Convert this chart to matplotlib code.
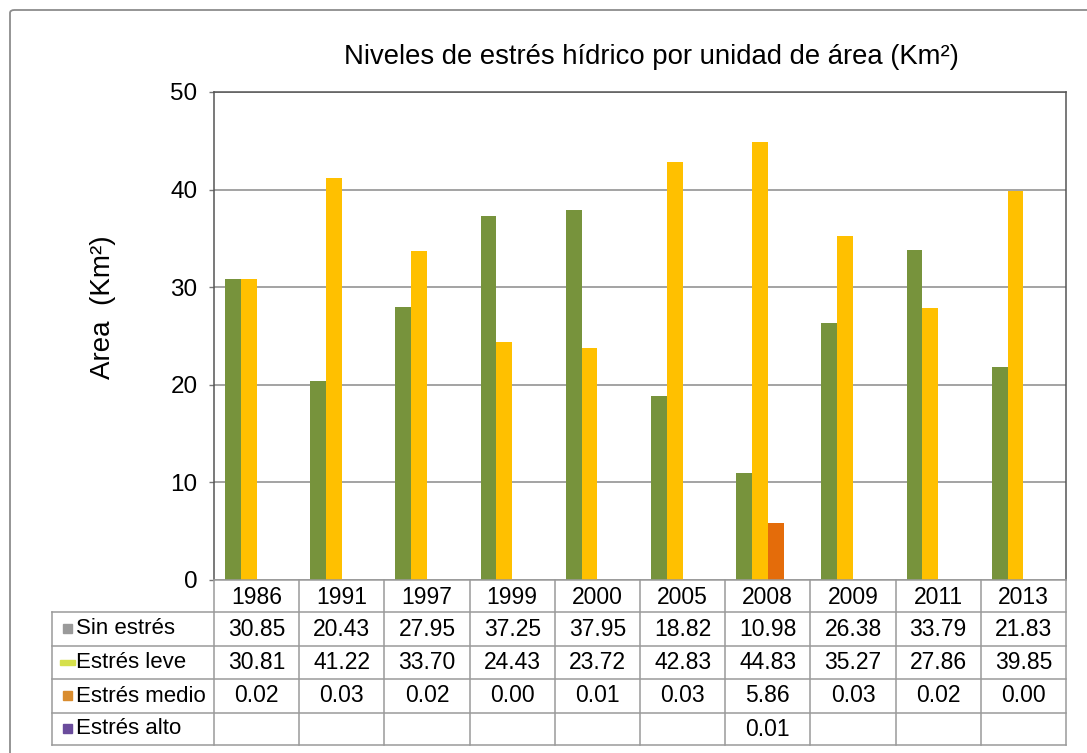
import numpy as np
import matplotlib
matplotlib.use("Agg")
import matplotlib.pyplot as plt
from matplotlib.transforms import blended_transform_factory
from matplotlib.patches import FancyBboxPatch, Rectangle
from matplotlib.lines import Line2D

plt.rcParams['font.family'] = ['Liberation Sans', 'DejaVu Sans']

years = ["1986", "1991", "1997", "1999", "2000", "2005", "2008", "2009", "2011", "2013"]
series_names = ["Sin estrés", "Estrés leve", "Estrés medio", "Estrés alto"]
sin_estres = [30.85, 20.43, 27.95, 37.25, 37.95, 18.82, 10.98, 26.38, 33.79, 21.83]
estres_leve = [30.81, 41.22, 33.70, 24.43, 23.72, 42.83, 44.83, 35.27, 27.86, 39.85]
estres_medio = [0.02, 0.03, 0.02, 0.00, 0.01, 0.03, 5.86, 0.03, 0.02, 0.00]
estres_alto = [None, None, None, None, None, None, 0.01, None, None, None]

bar_colors = ["#77933C", "#FFC000", "#E46C0A", "#7030A0"]
key_colors = ["#9a9a9a", "#d6e04c", "#d98c2e", "#6a4c9c"]

W, H = 1087, 753
fig = plt.figure(figsize=(W / 100, H / 100), dpi=100)

def fx(px):
    return px / W

def fy(py):
    return 1 - py / H

# outer chart frame (runs past the right and bottom edges)
fig.patches.append(FancyBboxPatch((fx(10), fy(790)), fx(1120), 780 / H,
                                  boxstyle="round,pad=0,rounding_size=0.004",
                                  transform=fig.transFigure, fill=False,
                                  edgecolor="#8c8c8c", linewidth=1.3))

left, right, top, bottom = 214, 1066, 92, 580
ax = fig.add_axes([fx(left), fy(bottom), fx(right - left), (bottom - top) / H])

all_series = [sin_estres, estres_leve, estres_medio, estres_alto]
x = np.arange(len(years))
bw = 0.185
for k, (vals, col) in enumerate(zip(all_series, bar_colors)):
    v = np.array([np.nan if a is None else a for a in vals], dtype=float)
    ax.bar(x + (k - 1.5) * bw, v, width=bw, color=col, zorder=3, linewidth=0)

ax.set_xlim(-0.5, len(years) - 0.5)
ax.set_ylim(0, 50)
ax.set_yticks([0, 10, 20, 30, 40, 50])
ax.tick_params(axis='y', labelsize=17.5, length=3.8, width=1, color="#777777", pad=8)
ax.set_xticks([])
ax.yaxis.grid(True, color="#8a8a8a", linewidth=1.1, zorder=0)
for s in ["top", "right", "left"]:
    ax.spines[s].set_color("#555555")
    ax.spines[s].set_linewidth(1.1)
ax.spines["bottom"].set_visible(False)

fig.text(fx(103), fy(307), "Area  (Km²)", rotation=90, ha="center", va="center",
         fontsize=20)
fig.text(fx(651), fy(57), "Niveles de estrés hídrico por unidad de área (Km²)",
         ha="center", va="center", fontsize=19.8)

# data table under the plot
tr = blended_transform_factory(ax.transData, fig.transFigure)
row_edges = [580, 612, 646, 679, 713, 745]
grid_col = "#9a9a9a"
n = len(years)
fig.add_artist(Line2D([fx(left), fx(right)], [fy(580)] * 2, color=grid_col, lw=1.1,
                      transform=fig.transFigure))
for ry in row_edges[1:]:
    fig.add_artist(Line2D([fx(52), fx(right)], [fy(ry)] * 2, color=grid_col, lw=1.1,
                          transform=fig.transFigure))
for i in range(n + 1):
    fig.add_artist(Line2D([i - 0.5] * 2, [fy(580), fy(745)], color=grid_col, lw=1.1,
                          transform=tr))
fig.add_artist(Line2D([fx(52)] * 2, [fy(612), fy(745)], color=grid_col, lw=1.1,
                      transform=fig.transFigure))

fs_tab = 16.5
for i, yr in enumerate(years):
    fig.text(i, fy(597), yr, transform=tr, ha="center", va="center", fontsize=fs_tab)
for r, (name, vals) in enumerate(zip(series_names, all_series)):
    yc = fy((row_edges[r + 1] + row_edges[r + 2]) / 2)
    for i, v in enumerate(vals):
        if v is not None:
            fig.text(i, yc, f"{v:.2f}", transform=tr, ha="center", va="center",
                     fontsize=fs_tab)
    fig.text(fx(76), yc, name, ha="left", va="center", fontsize=fs_tab - 0.5)
    if r == 1:
        fig.patches.append(Rectangle((fx(60), yc - 2.5 / H), 15 / W, 5 / H,
                                     transform=fig.transFigure, color=key_colors[r]))
    else:
        fig.patches.append(Rectangle((fx(63), yc - 4 / H), 9 / W, 9 / H,
                                     transform=fig.transFigure, color=key_colors[r]))

fig.savefig("out.png", dpi=100)
